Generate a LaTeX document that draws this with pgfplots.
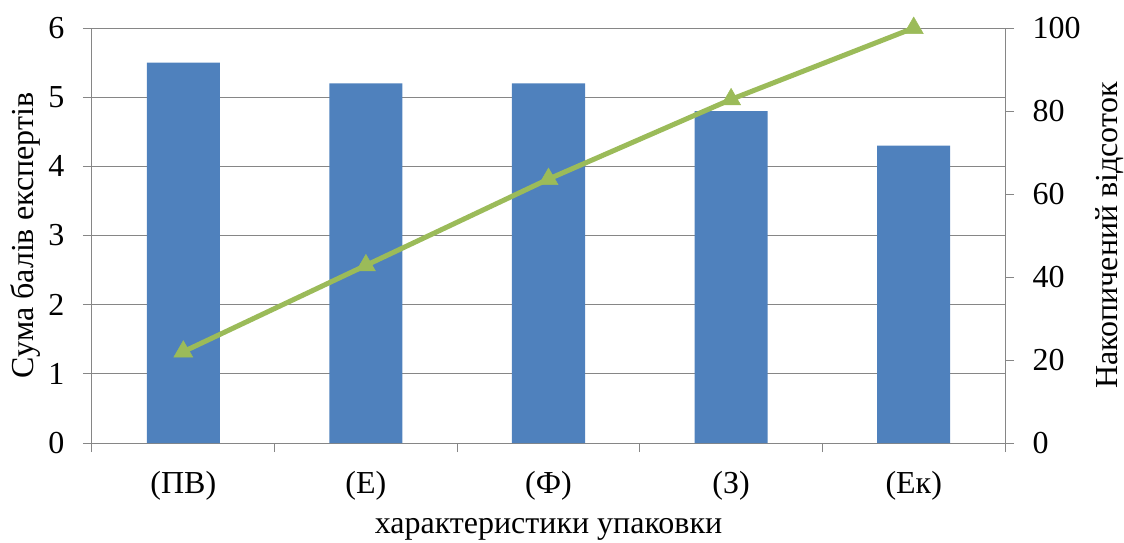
\documentclass[border=0pt]{standalone}
\usepackage{fontspec}
\setmainfont{Liberation Serif}
\usepackage{pgfplots}
\pgfplotsset{compat=1.18}

\definecolor{barblue}{HTML}{4F81BD}
\definecolor{linegreen}{HTML}{9BBB59}
\definecolor{axisgray}{HTML}{868686}

\newcommand{\chartfont}{\fontsize{32}{36}\selectfont}

\pgfplotsset{
  common/.style={
    scale only axis,
    width=913pt, height=415pt,
    at={(0pt,0pt)}, anchor=south west,
    xmin=-0.5, xmax=4.5,
    /pgf/number format/assume math mode=true,
    tick label style={font=\chartfont},
    label style={font=\chartfont},
    axis line style={axisgray, line width=1pt},
    every tick/.style={axisgray, line width=1pt},
    tick align=outside,
    major tick length=9pt,
    minor tick length=9pt,
  }
}

\begin{document}
\begin{tikzpicture}
\path[use as bounding box] (-92pt,-99pt) rectangle (1032pt,443pt);

% bars: sum of expert scores
\begin{axis}[common,
  ymin=0, ymax=6, ytick={0,1,...,6},
  axis x line*=bottom, axis y line*=left,
  xtick={0,1,2,3,4},
  xticklabels={(ПВ),(Е),(Ф),(З),(Ек)},
  major x tick style={draw=none},
  minor xtick={-0.5,0.5,1.5,2.5,3.5,4.5},
  xticklabel style={anchor=center, yshift=-34pt},
  yticklabel style={anchor=east, xshift=-15pt},
  ymajorgrids, grid style={axisgray, line width=1pt},
  xlabel={характеристики упаковки},
  xlabel style={at={(axis description cs:0.5,-0.209)}, anchor=center, inner sep=1pt},
  ylabel={Сума балів експертів},
  ylabel style={at={(axis description cs:-0.073,0.5)}, anchor=center},
]
\addplot[ybar, bar width=0.4, fill=barblue, draw=none]
  coordinates {(0,5.5) (1,5.2) (2,5.2) (3,4.8) (4,4.3)};
\end{axis}

% line: cumulative percentage
\begin{axis}[common,
  ymin=0, ymax=100, ytick={0,20,...,100},
  axis y line*=right, hide x axis,
  yticklabel style={anchor=west, xshift=15pt},
  ylabel={Накопичений відсоток},
  ylabel style={at={(axis description cs:1.115,0.5)}, anchor=center},
  clip=false,
]
\addplot[linegreen, line width=5pt, mark=triangle*,
  mark options={fill=linegreen, draw=linegreen, line width=0.5pt}, mark size=11pt]
  coordinates {(0,22) (1,42.8) (2,63.6) (3,82.8) (4,100)};
\end{axis}
\end{tikzpicture}
\end{document}
